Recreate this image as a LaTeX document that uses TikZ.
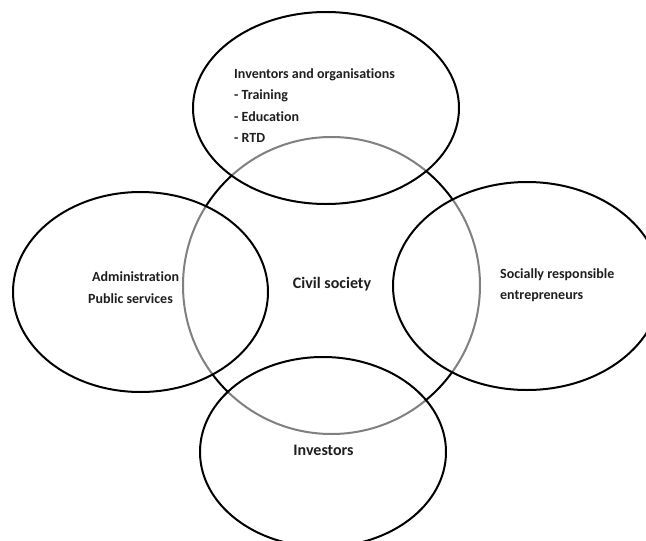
\documentclass[tikz,border=0pt]{standalone}
\usepackage{fontspec}
\setmainfont{Carlito}[Ligatures={NoCommon}]
\begin{document}
\begin{tikzpicture}[x=1pt,y=-1pt,
  ring/.style={draw=black,line width=2pt},
  lobe/.style={draw=black,line width=2pt,fill=white,fill opacity=0.5,draw opacity=1},
  lbl/.style={font=\fontsize{14}{16}\selectfont\bfseries,inner sep=0pt,text height=1.6ex,text depth=0.45ex,text=black!88},
  big/.style={lbl,font=\fontsize{16}{18}\selectfont\bfseries}]
\useasboundingbox (0,0) rectangle (646,541);
\clip (0,0) rectangle (646,541);
\fill[white] (0,0) rectangle (646,541);
% central circle
\draw[ring] (331.5,285.5) circle [radius=148.5];
% surrounding ellipses
\draw[lobe] (326,108) ellipse [x radius=133,y radius=96];
\draw[lobe] (140.5,292) ellipse [x radius=127.5,y radius=100];
\draw[lobe] (527,286) ellipse [x radius=134,y radius=104];
\draw[lobe] (323,452) ellipse [x radius=123,y radius=95];
% labels
\node[lbl,anchor=west] (inv) at (234,76) {Inventors and organisations};
\node[lbl,anchor=west] (tr) at (234,97) {- Training};
\node[lbl,anchor=west] (ed) at (234,118.5) {- Education};
\node[lbl,anchor=west] (rtd) at (234,140) {- RTD};
\node[lbl,anchor=west] (adm) at (92,279) {Administration};
\node[lbl,anchor=west] (pub) at (88,301) {Public services};
\node[big] (civ) at (332,286) {Civil society};
\node[lbl,anchor=west] (soc) at (500,276) {Socially responsible};
\node[lbl,anchor=west] (ent) at (500,297) {entrepreneurs};
\node[big] (ivs) at (323.5,453) {Investors};
\end{tikzpicture}
\end{document}
